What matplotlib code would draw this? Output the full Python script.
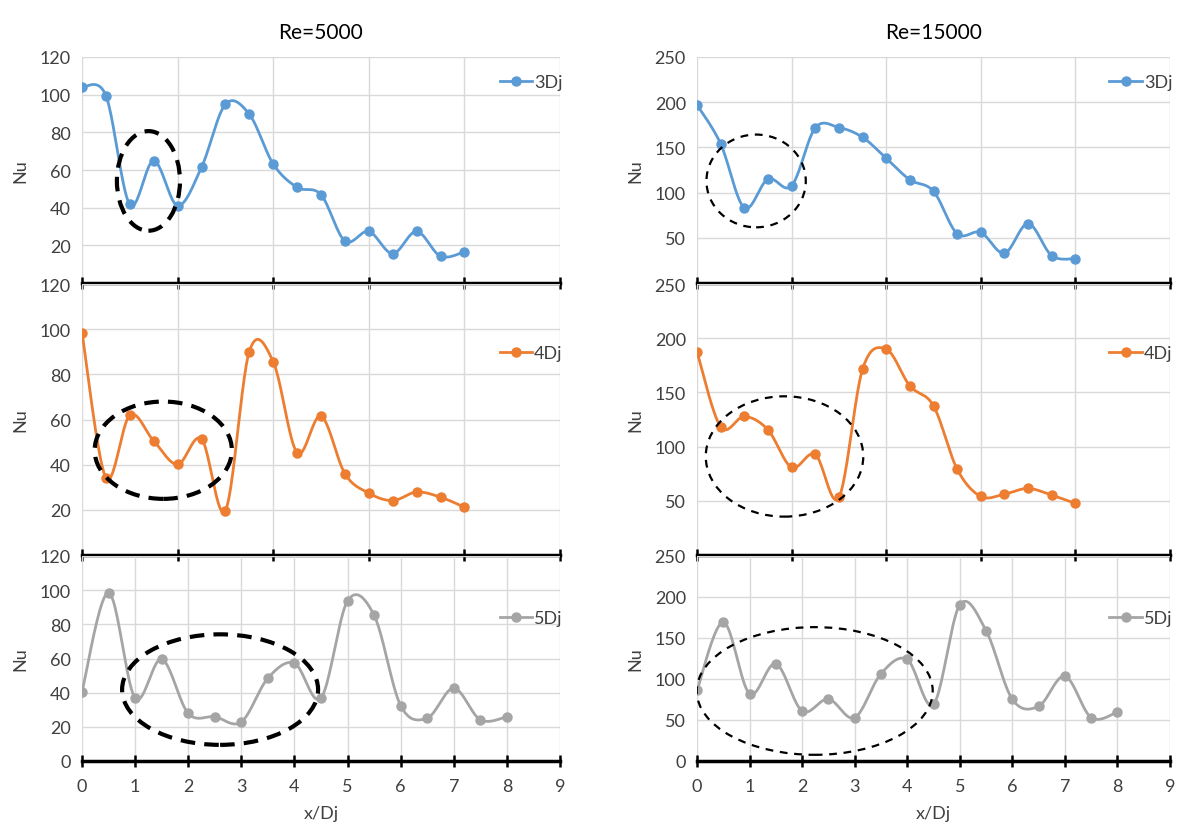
import numpy as np
import matplotlib
matplotlib.use('Agg')
import matplotlib.pyplot as plt
from matplotlib.patches import Ellipse

plt.rcParams['font.family'] = ['Lato', 'DejaVu Sans']

# x/Dj positions (same for every series)
xd = [0, 0.5, 1, 1.5, 2, 2.5, 3, 3.5, 4, 4.5, 5, 5.5, 6, 6.5, 7, 7.5, 8]

# Re = 5000
nu_3dj_5k = [104, 99.5, 41.7, 64.9, 41.1, 61.4, 94.9, 89.6, 63.2, 50.8, 46.9, 22.3, 27.4, 15.6, 27.4, 14.2, 16.5]
nu_4dj_5k = [98.5, 34.2, 61.9, 50.5, 40.1, 51.4, 19.7, 90.1, 85.6, 45.3, 61.5, 36.0, 27.4, 24.1, 27.9, 25.6, 21.2]
nu_5dj_5k = [40.6, 98.5, 36.9, 59.6, 27.9, 25.9, 22.9, 48.5, 57.3, 36.9, 93.7, 85.3, 32.4, 25.1, 42.6, 24.1, 25.9]

# Re = 15000
nu_3dj_15k = [197, 154, 83.2, 115, 107.5, 171.6, 172, 161.2, 138, 114.2, 101.5, 54.5, 56, 32.9, 65.7, 30.2, 26.9]
nu_4dj_15k = [187.4, 118.2, 127.8, 115.5, 80.8, 92.8, 53.1, 171.4, 189.9, 156, 137.6, 79.2, 54, 56.2, 61.4, 55.2, 47.6]
nu_5dj_15k = [86.1, 169.2, 82.1, 118.6, 61, 75.6, 52.9, 106.4, 123.8, 69.1, 190.4, 159.1, 75.2, 66.7, 103.5, 52.9, 59.7]

labels = ['3Dj', '4Dj', '5Dj']
colors = ['#5B9BD5', '#ED7D31', '#A5A5A5']

# highlighted regions: (x centre, y centre, width, height)
marks_5k = [(1.39, 54.2, 1.32, 52.9), (1.70, 46.4, 2.87, 43.1), (2.60, 41.8, 3.69, 64.7)]
marks_15k = [(1.25, 112.9, 2.10, 102.6), (1.85, 90.9, 3.33, 111.0), (2.24, 85.4, 4.49, 155.7)]


def smooth(x, y, n=24):
    # Excel-style smoothed line: cubic Bezier through each point pair
    pts = np.column_stack([x, y]).astype(float)
    P = np.vstack([pts[0], pts, pts[-1]])
    t = np.linspace(0, 1, n)[:, None]
    out = []
    for i in range(len(pts) - 1):
        p0, p1, p2, p3 = P[i], P[i + 1], P[i + 2], P[i + 3]
        c1 = p1 + (p2 - p0) / 6
        c2 = p2 - (p3 - p1) / 6
        seg = (1 - t) ** 3 * p1 + 3 * (1 - t) ** 2 * t * c1 + 3 * (1 - t) * t ** 2 * c2 + t ** 3 * p2
        out.append(seg if i == 0 else seg[1:])
    c = np.vstack(out)
    return c[:, 0], c[:, 1]


fig = plt.figure(figsize=(11.77, 8.29), dpi=100)

W, H = 1177, 829
rows = [(58, 284), (285, 556), (557, 762)]
cols = [(82, 560), (697, 1170)]

setups = [
    dict(series=[nu_3dj_5k, nu_4dj_5k, nu_5dj_5k], ymax=120, ystep=20, marks=marks_5k,
         elw=3.0, dash=(3.5, 2.2), title='Re=5000'),
    dict(series=[nu_3dj_15k, nu_4dj_15k, nu_5dj_15k], ymax=250, ystep=50, marks=marks_15k,
         elw=1.6, dash=(3.5, 3.0), title='Re=15000'),
]
legend_y = [0.955, 0.80, 0.77]

for c, cfg in enumerate(setups):
    x0, x1 = cols[c]
    for r in range(3):
        top, bot = rows[r]
        ax = fig.add_axes([x0 / W, 1 - bot / H, (x1 - x0) / W, (bot - top) / H])
        ys = cfg['series'][r]
        sx, sy = smooth(xd, ys)
        ax.plot(sx, sy, color=colors[r], lw=2, zorder=3)
        ax.plot(xd, ys, 'o', color=colors[r], ms=6.5, zorder=4)
        ax.plot([], [], '-o', color=colors[r], lw=2, ms=6.5, label=labels[r])

        ex, ey, ew, eh = cfg['marks'][r]
        ax.add_patch(Ellipse((ex, ey), ew, eh, fill=False, ec='black', lw=cfg['elw'],
                             ls=(0, cfg['dash']), zorder=5))

        if r < 2:
            ax.set_xlim(0, 10)
            ax.set_xticks(np.arange(0, 11, 2))
            ax.tick_params(axis='x', labelbottom=False)
            yt = np.arange(cfg['ystep'], cfg['ymax'] + 1, cfg['ystep'])
        else:
            ax.set_xlim(0, 9)
            ax.set_xticks(np.arange(0, 10, 1))
            ax.set_xlabel('x/Dj', fontsize=13, color='#404040', labelpad=8)
            yt = np.arange(0, cfg['ymax'] + 1, cfg['ystep'])
        ax.set_ylim(0, cfg['ymax'])
        ax.set_yticks(yt)
        ax.set_ylabel('Nu', fontsize=13, color='#404040', labelpad=8)

        for s in ['top', 'right', 'left']:
            ax.spines[s].set_visible(False)
        ax.spines['bottom'].set_linewidth(2.5)
        ax.spines['bottom'].set_color('black')
        ax.spines['bottom'].set_zorder(6)
        ax.grid(True, color='#D9D9D9', lw=1)
        ax.set_axisbelow(True)
        ax.tick_params(axis='x', direction='inout', length=8, width=1.8, color='black',
                       labelsize=13, labelcolor='#404040', pad=8)
        ax.tick_params(axis='y', length=0, labelsize=13, labelcolor='#404040', pad=8)
        ax.patch.set_alpha(0)

        ax.legend(loc='upper right', bbox_to_anchor=(1.02, legend_y[r]), frameon=False,
                  fontsize=13, handlelength=1.8, handletextpad=0.1, borderaxespad=0,
                  labelcolor='#404040')

        if r == 0:
            ax.set_title(cfg['title'], fontsize=15, pad=14)

fig.savefig('out.png', dpi=100)
